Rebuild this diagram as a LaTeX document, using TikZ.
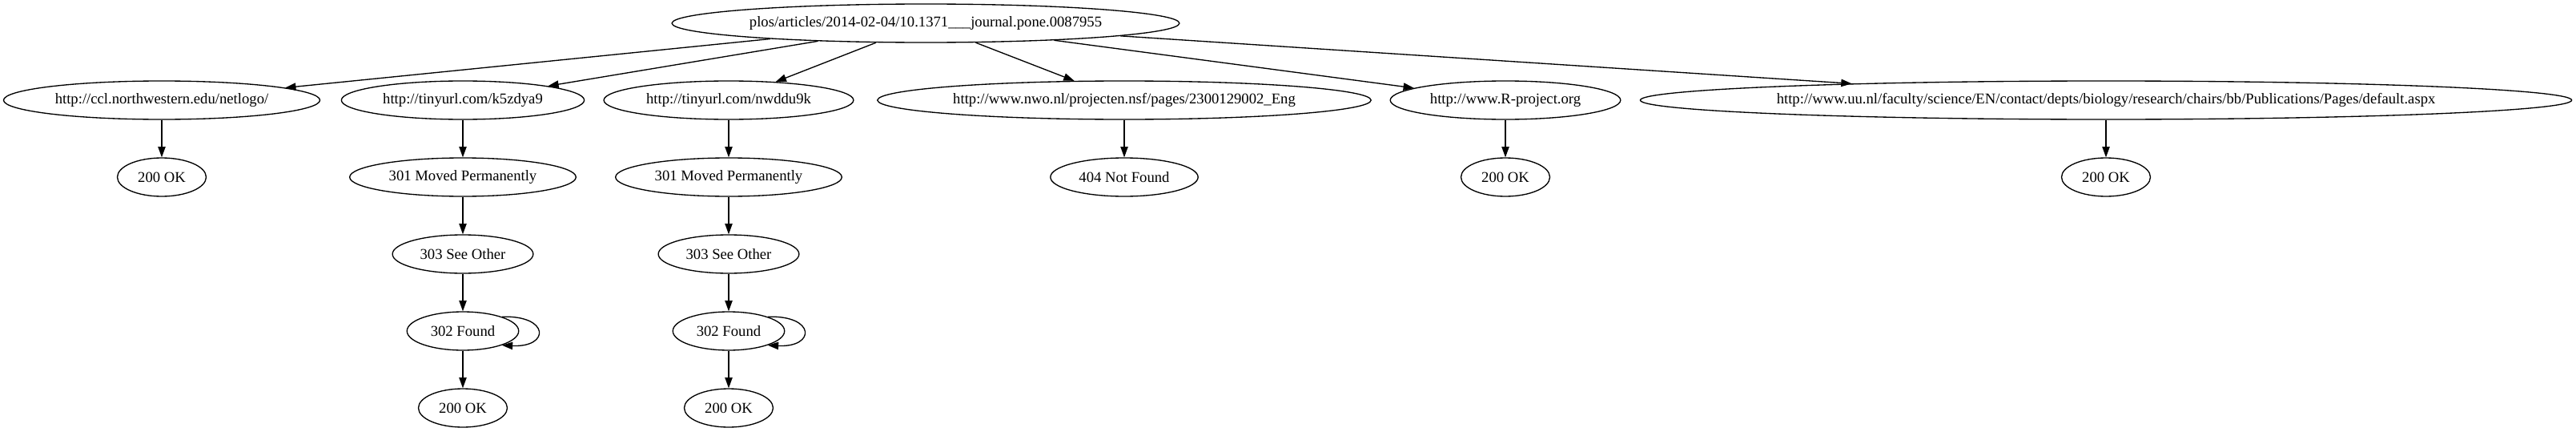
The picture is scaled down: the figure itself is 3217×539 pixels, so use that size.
\documentclass[tikz,border=0pt]{standalone}
\usepackage{fontspec}
\setmainfont{Liberation Serif}
\usetikzlibrary{shapes.geometric,arrows.meta}

\newcommand\knotenschrift{\fontsize{14}{16}\selectfont}
\newlength\knotenlaenge

\tikzset{
  knoten/.style={draw, ellipse, line width=1pt, inner xsep=0pt, inner ysep=4pt,
    minimum height=36pt, font=\knotenschrift},
  kante/.style={line width=1pt, -{Triangle[length=10pt,width=7pt]}}
}

% Ellipse so breit wie bei Graphviz: (Text + Rand) * 1.374
\newcommand\knoten[3]{%
  \pgfinterruptpicture
    \settowidth\knotenlaenge{\knotenschrift #3}%
    \global\knotenlaenge=\knotenlaenge
  \endpgfinterruptpicture
  \pgfmathsetmacro\knotenbreite{(\knotenlaenge+15.84)*1.374}%
  \node[knoten, minimum width=\knotenbreite pt] (#1) at (#2) {#3};%
}

\begin{document}
\begin{tikzpicture}[x=0.75pt,y=-0.75pt]
  \useasboundingbox (0,0) rectangle (3217,539);

  % Artikel (Wurzel)
  \knoten{artikel}{1156,29}{plos/articles/2014-02-04/10.1371\_\_\_journal.pone.0087955}

  % Links im Artikel
  \knoten{netlogo}{202,125}{http://ccl.northwestern.edu/netlogo/}
  \knoten{tinyA}{578,125}{http://tinyurl.com/k5zdya9}
  \knoten{tinyB}{910,125}{http://tinyurl.com/nwddu9k}
  \knoten{nwo}{1404,125}{http://www.nwo.nl/projecten.nsf/pages/2300129002\_Eng}
  \knoten{rproj}{1880,125}{http://www.R-project.org}
  \knoten{uu}{2630,125}{http://www.uu.nl/faculty/science/EN/contact/depts/biology/research/chairs/bb/Publications/Pages/default.aspx}

  % Antworten, erste Stufe
  \knoten{okNetlogo}{202,221}{200 OK}
  \knoten{movedA}{578,221}{301 Moved Permanently}
  \knoten{movedB}{910,221}{301 Moved Permanently}
  \knoten{notfound}{1404,221}{404 Not Found}
  \knoten{okR}{1880,221}{200 OK}
  \knoten{okUU}{2630,221}{200 OK}

  % Weiterleitungen der tinyurl-Links
  \knoten{otherA}{578,317}{303 See Other}
  \knoten{otherB}{910,317}{303 See Other}
  \knoten{foundA}{578,413}{302 Found}
  \knoten{foundB}{910,413}{302 Found}
  \knoten{okA}{578,509}{200 OK}
  \knoten{okB}{910,509}{200 OK}

  % Kanten von der Wurzel
  \draw[kante] (artikel) -- (netlogo);
  \draw[kante] (artikel) -- (tinyA);
  \draw[kante] (artikel) -- (tinyB);
  \draw[kante] (artikel) -- (nwo);
  \draw[kante] (artikel) -- (rproj);
  \draw[kante] (artikel) -- (uu);

  % Kanten zu den Antworten
  \draw[kante] (netlogo) -- (okNetlogo);
  \draw[kante] (tinyA) -- (movedA);
  \draw[kante] (tinyB) -- (movedB);
  \draw[kante] (nwo) -- (notfound);
  \draw[kante] (rproj) -- (okR);
  \draw[kante] (uu) -- (okUU);

  % Ketten der Weiterleitungen
  \draw[kante] (movedA) -- (otherA);
  \draw[kante] (otherA) -- (foundA);
  \draw[kante] (foundA) -- (okA);
  \draw[kante] (movedB) -- (otherB);
  \draw[kante] (otherB) -- (foundB);
  \draw[kante] (foundB) -- (okB);

  % Schleifen bei 302 Found
  \draw[kante] (foundA.20) .. controls +(60,-2) and +(60,3) .. (foundA.-20);
  \draw[kante] (foundB.20) .. controls +(60,-2) and +(60,3) .. (foundB.-20);

\end{tikzpicture}
\end{document}
